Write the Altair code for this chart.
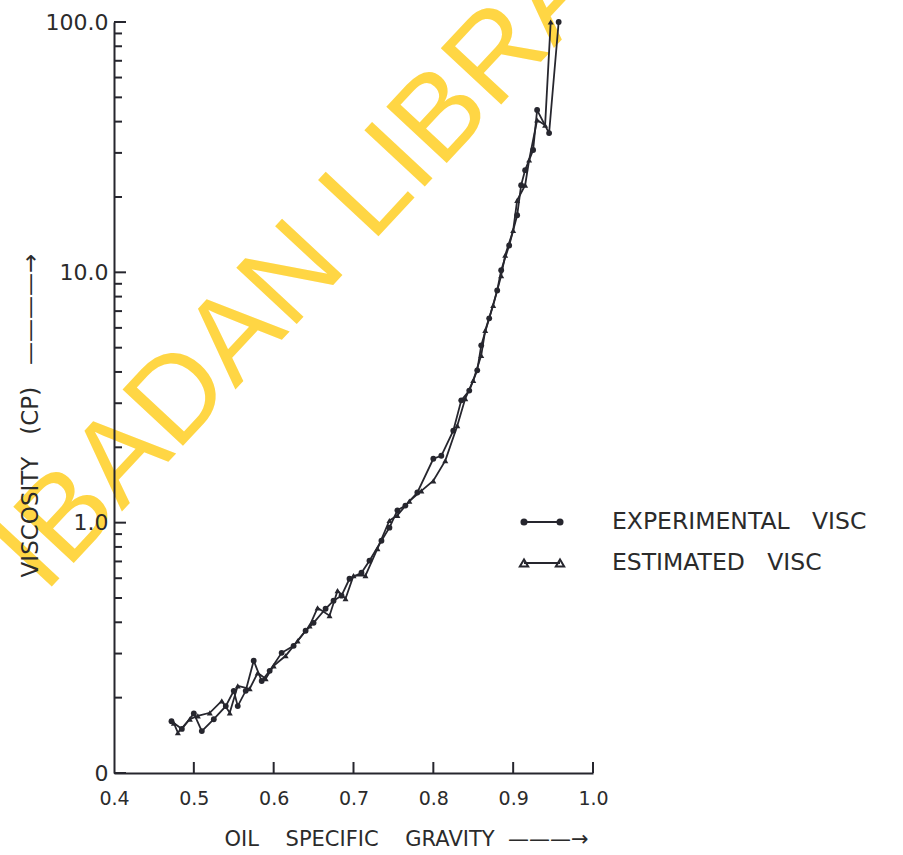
import altair as alt
import pandas as pd

# ---- data ----
exp_sg = [0.472, 0.485, 0.500, 0.510, 0.525, 0.540, 0.550, 0.555, 0.565, 0.575,
          0.585, 0.595, 0.610, 0.625, 0.640, 0.650, 0.665, 0.675, 0.685, 0.695,
          0.710, 0.720, 0.735, 0.745, 0.755, 0.765, 0.780, 0.800, 0.810, 0.825,
          0.835, 0.845, 0.855, 0.860, 0.870, 0.880, 0.885, 0.895, 0.905, 0.910,
          0.915, 0.925, 0.930, 0.945, 0.957]
exp_visc = [0.161, 0.150, 0.173, 0.147, 0.164, 0.185, 0.213, 0.185, 0.213, 0.281,
            0.233, 0.256, 0.302, 0.322, 0.370, 0.398, 0.453, 0.488, 0.511, 0.597,
            0.631, 0.705, 0.847, 0.955, 1.12, 1.17, 1.32, 1.80, 1.85, 2.33,
            3.08, 3.37, 4.06, 5.11, 6.55, 8.47, 10.2, 12.8, 16.9, 22.3,
            25.6, 30.8, 44.5, 36.0, 100.0]

est_sg = [0.475, 0.480, 0.495, 0.505, 0.520, 0.535, 0.545, 0.555, 0.570, 0.580,
          0.590, 0.600, 0.615, 0.630, 0.645, 0.655, 0.670, 0.680, 0.690, 0.700,
          0.715, 0.730, 0.745, 0.755, 0.770, 0.785, 0.800, 0.815, 0.830, 0.840,
          0.850, 0.860, 0.865, 0.875, 0.885, 0.890, 0.900, 0.905, 0.915, 0.920,
          0.930, 0.940, 0.947]
est_visc = [0.158, 0.145, 0.164, 0.169, 0.174, 0.194, 0.174, 0.223, 0.217, 0.251,
            0.238, 0.268, 0.294, 0.337, 0.387, 0.457, 0.425, 0.535, 0.497, 0.614,
            0.614, 0.787, 1.02, 1.07, 1.22, 1.34, 1.47, 1.77, 2.44, 3.13,
            3.70, 4.66, 5.86, 7.38, 9.7, 11.7, 14.7, 19.4, 22.3, 28.1,
            40.6, 38.7, 100.0]

x_tick_values = [0.4, 0.5, 0.6, 0.7, 0.8, 0.9, 1.0]
y_major_ticks = [0.1, 1.0, 10.0, 100.0]
y_minor_ticks = [0.2, 0.3, 0.4, 0.5, 0.6, 0.7, 0.8, 0.9,
                 2, 3, 4, 5, 6, 7, 8, 9,
                 20, 30, 40, 50, 60, 70, 80, 90]

NB = "\u00a0"
legend_labels = ["EXPERIMENTAL" + NB * 3 + "VISC", "ESTIMATED" + NB * 3 + "VISC"]
x_title = "OIL" + NB * 4 + "SPECIFIC" + NB * 4 + "GRAVITY" + NB * 2 + "———→"
y_title = "VISCOSITY" + NB * 3 + "(CP)" + NB * 3 + "————→"
watermark = "IBADAN LIBRARY"

W, H = 479, 751
INK = "#26262e"
TXT = "#2b2b2b"
FONT = "DejaVu Sans"

exp_df = pd.DataFrame({"sg": exp_sg, "visc": exp_visc})
est_df = pd.DataFrame({"sg": est_sg, "visc": est_visc})

x_enc = alt.X(
    "sg:Q",
    scale=alt.Scale(domain=[0.4, 1.0], nice=False, zero=False),
    axis=alt.Axis(
        values=x_tick_values, format=".1f", ticks=False, grid=False,
        labelFlush=False,
        labelFontSize=19, labelColor=TXT, labelFont=FONT, labelPadding=16,
        domainColor=INK, domainWidth=2,
        title=x_title, titleFontSize=21, titleFont=FONT,
        titleFontWeight="normal", titleColor=TXT,
        titleX=292, titleY=66, titleAlign="center", titleBaseline="middle", zindex=1,
    ),
)
y_enc = alt.Y(
    "visc:Q",
    scale=alt.Scale(type="log", domain=[0.1, 100], nice=False),
    axis=alt.Axis(
        values=y_major_ticks, ticks=False, grid=False,
        labelExpr="datum.value < 0.5 ? '0' : format(datum.value, '.1f')",
        labelFontSize=22, labelColor=TXT, labelFont=FONT, labelPadding=6,
        domainColor=INK, domainWidth=2,
        title=y_title, titleFontSize=23, titleFont=FONT,
        titleFontWeight="normal", titleColor=TXT,
        titleX=-84, titleY=393, titleAngle=270, titleAlign="center",
        titleBaseline="middle", zindex=1,
    ),
)

one = pd.DataFrame({"k": [0]})

wm = alt.Chart(one).mark_text(
    text=watermark, angle=313, fontSize=120, font="Liberation Sans",
    color="#FFD43B", align="left", baseline="middle", opacity=0.95,
).encode(x=alt.value(-96), y=alt.value(548))

exp_line = alt.Chart(exp_df).mark_line(color=INK, strokeWidth=1.8).encode(x=x_enc, y=y_enc)
est_line = alt.Chart(est_df).mark_line(color=INK, strokeWidth=1.8).encode(x=x_enc, y=y_enc)
exp_pts = alt.Chart(exp_df).mark_point(shape="circle", filled=True, size=34, color=INK, opacity=1).encode(x=x_enc, y=y_enc)
est_pts = alt.Chart(est_df).mark_point(shape="triangle-up", filled=True, size=36, color=INK, opacity=1).encode(x=x_enc, y=y_enc)

y_major_df = pd.DataFrame({"visc": y_major_ticks})
y_minor_df = pd.DataFrame({"visc": y_minor_ticks})
x_tick_df = pd.DataFrame({"sg": x_tick_values[1:]})

y_major_rules = alt.Chart(y_major_df).mark_rule(color=INK, strokeWidth=2).encode(
    y=y_enc, x=alt.value(0), x2=alt.value(12))
y_minor_rules = alt.Chart(y_minor_df).mark_rule(color=INK, strokeWidth=2).encode(
    y=y_enc, x=alt.value(0), x2=alt.value(8))
x_rules = alt.Chart(x_tick_df).mark_rule(color=INK, strokeWidth=2).encode(
    x=x_enc, y=alt.value(H), y2=alt.value(H - 11))

# legend (layout positions in pixels)
LX1, LX2, LY1, LY2, TX = 410, 446, 500, 541, 498
leg = []
leg.append(alt.Chart(one).mark_rule(color=INK, strokeWidth=2).encode(
    x=alt.value(LX1), x2=alt.value(LX2), y=alt.value(LY1)))
leg.append(alt.Chart(one).mark_rule(color=INK, strokeWidth=2).encode(
    x=alt.value(LX1), x2=alt.value(LX2), y=alt.value(LY2)))
for xv in (LX1, LX2):
    leg.append(alt.Chart(one).mark_point(shape="circle", filled=True, size=50, color=INK, opacity=1).encode(
        x=alt.value(xv), y=alt.value(LY1)))
    leg.append(alt.Chart(one).mark_point(shape="triangle-up", filled=False, size=70, color=INK,
                                         strokeWidth=2, opacity=1).encode(
        x=alt.value(xv), y=alt.value(LY2)))
for lbl, yv in zip(legend_labels, (LY1, LY2)):
    leg.append(alt.Chart(one).mark_text(
        text=lbl, fontSize=23.5, font=FONT, color=TXT, align="left", baseline="middle",
    ).encode(x=alt.value(TX), y=alt.value(yv)))

chart = alt.layer(
    wm, y_major_rules, y_minor_rules, x_rules,
    exp_line, est_line, exp_pts, est_pts, *leg,
).properties(
    width=W, height=H,
    autosize=alt.AutoSizeParams(type="none"),
    padding={"left": 114, "top": 22, "right": 903 - 114 - W, "bottom": 855 - 22 - H},
    background="white",
).configure_view(stroke=None)

chart.save("out.html", embed_options={"renderer": "svg", "actions": False})
